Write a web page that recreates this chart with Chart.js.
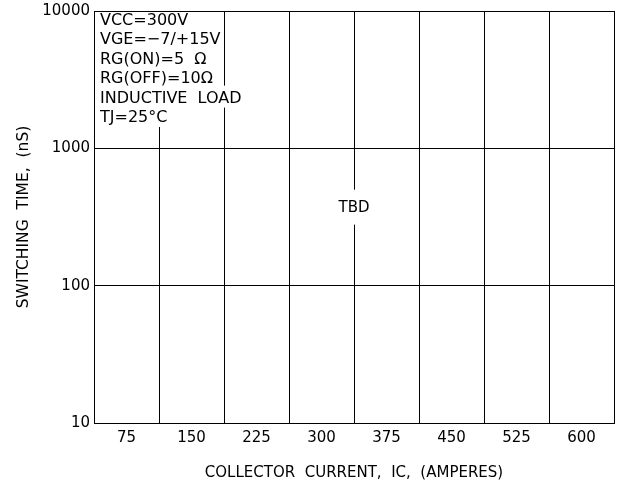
<!DOCTYPE html>
<html>
<head>
<meta charset="utf-8">
<script src="https://cdn.jsdelivr.net/npm/chart.js@4.4.1/dist/chart.umd.min.js"></script>
<style>
  html, body { margin: 0; padding: 0; background: #fff; }
</style>
</head>
<body>
<canvas id="chart" width="618" height="487"></canvas>
<script>
// collector current categories (A)
const currentLabels = ['75', '150', '225', '300', '375', '450', '525', '600'];
// switching time (nS) - curves not published yet (TBD)
const switchingTime = [null, null, null, null, null, null, null, null];
const timeTicks = [10, 100, 1000, 10000];
const conditions = [
  'VCC=300V',
  'VGE=\u22127/+15V',
  'RG(ON)=5  \u03A9',
  'RG(OFF)=10\u03A9',
  'INDUCTIVE  LOAD',
  'TJ=25\u00B0C'
];
const noteText = 'TBD';
const noteValue = 370;

const FONT = { family: 'DejaVu Sans', size: 15 };

// white-boxed text notes over the grid
const notesPlugin = {
  id: 'notes',
  afterDraw(chart) {
    const ctx = chart.ctx;
    const area = chart.chartArea;
    ctx.save();
    ctx.font = '16px "' + FONT.family + '"';
    ctx.textAlign = 'left';
    ctx.textBaseline = 'alphabetic';
    const x0 = area.left + 6;
    conditions.forEach(function(t, i) {
      const base = area.top + 14 + i * 19.4;
      const w = ctx.measureText(t).width;
      let top = base - 17;
      if (top < area.top + 1) top = area.top + 1;
      ctx.fillStyle = '#fff';
      ctx.fillRect(x0 - 2, top, w + 4, base + 5 - top);
    });
    ctx.fillStyle = '#000';
    conditions.forEach(function(t, i) {
      ctx.fillText(t, x0, area.top + 14 + i * 19.4);
    });

    ctx.font = FONT.size + 'px "' + FONT.family + '"';
    const cx = (area.left + area.right) / 2;
    const cy = chart.scales.y.getPixelForValue(noteValue);
    const tw = ctx.measureText(noteText).width;
    ctx.fillStyle = '#fff';
    ctx.fillRect(cx - tw / 2 - 3, cy - 18, tw + 6, 35);
    ctx.fillStyle = '#000';
    ctx.textAlign = 'center';
    ctx.textBaseline = 'middle';
    ctx.fillText(noteText, cx, cy);
    ctx.restore();
  }
};

new Chart(document.getElementById('chart'), {
  type: 'line',
  data: {
    labels: currentLabels,
    datasets: [{
      label: 'Switching time',
      data: switchingTime,
      borderColor: '#000',
      borderWidth: 1,
      pointRadius: 0
    }]
  },
  options: {
    responsive: false,
    animation: false,
    layout: { padding: { top: 11, right: 4, left: 0, bottom: 0 } },
    plugins: {
      legend: { display: false },
      tooltip: { enabled: false }
    },
    scales: {
      x: {
        type: 'category',
        offset: true,
        grid: { offset: true, color: '#000', lineWidth: 1, drawTicks: false },
        border: { color: '#000', width: 1 },
        ticks: { color: '#000', font: FONT, padding: 6, maxRotation: 0 },
        title: {
          display: true,
          text: 'COLLECTOR  CURRENT,  IC,  (AMPERES)',
          color: '#000',
          font: FONT,
          padding: { top: 0, bottom: 5 }
        },
        afterFit: function(scale) { scale.height = 64; }
      },
      y: {
        type: 'logarithmic',
        min: 10,
        max: 10000,
        afterBuildTicks: function(scale) {
          scale.ticks = timeTicks.map(function(v) { return { value: v }; });
        },
        grid: { color: '#000', lineWidth: 1, drawTicks: false },
        border: { color: '#000', width: 1 },
        ticks: {
          color: '#000',
          font: FONT,
          padding: 4,
          callback: function(v) { return String(v); }
        },
        title: {
          display: true,
          text: 'SWITCHING  TIME,  (nS)',
          color: '#000',
          font: { family: FONT.family, size: 15.5 },
          padding: { top: 15, bottom: 0 }
        },
        afterFit: function(scale) {
          scale.width = 94;
          scale.paddingTop = 0;
          scale.paddingBottom = 0;
        }
      }
    }
  },
  plugins: [notesPlugin]
});
</script>
</body>
</html>
